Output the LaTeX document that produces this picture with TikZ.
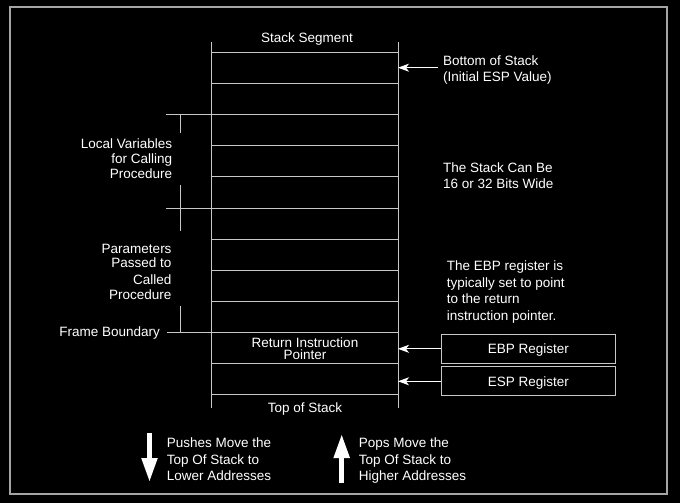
\documentclass[tikz,border=0pt]{standalone}
\usepackage{fontspec}
\setmainfont{Liberation Sans}
\usetikzlibrary{arrows.meta}
\definecolor{linegray}{RGB}{200,200,200}
\definecolor{bordergray}{RGB}{165,165,165}
\tikzset{
  lbl/.style={text=white, inner sep=0pt, font=\fontsize{13.55}{16}\selectfont},
  rowline/.style={draw=linegray, line width=1bp},
  ptr/.style={draw=white, line width=1bp, -{Stealth[length=11bp,width=8bp,inset=3bp]}},
  regbox/.style={draw=linegray, line width=1bp, text=white, minimum width=174bp,
    minimum height=29bp, inner sep=0pt, text height=9.7bp, text depth=0bp,
    font=\fontsize{13.55}{16}\selectfont},
  bigarrow/.style={draw=white, line width=5bp, -{Triangle[length=24bp,width=15bp]}},
}
\begin{document}
\begin{tikzpicture}[x=1bp,y=-1bp]
  \fill[black] (0,0) rectangle (680,503);
  \useasboundingbox (0,0) rectangle (680,503);
  \draw[bordergray, line width=1.6bp] (10,7) rectangle (667,494);

  % stack frame
  \coordinate (sl) at (211,0);
  \coordinate (sr) at (398,0);
  \draw[rowline] (211,42) -- (211,408);
  \draw[rowline] (398,42) -- (398,408);
  \foreach \i in {0,...,11}
    \draw[rowline] (211,52.3+31.15*\i) -- (398,52.3+31.15*\i);
  % extended boundary lines
  \draw[rowline] (166,114.6) -- (211,114.6);
  \draw[rowline] (166,208.05) -- (211,208.05);
  \draw[rowline] (167,332.65) -- (211,332.65);
  % brackets
  \draw[rowline] (180,114.6) -- (180,133);
  \draw[rowline] (180,185) -- (180,231);
  \draw[rowline] (180,306) -- (180,332.65);

  % labels inside stack
  \node[lbl, anchor=base] (seg) at (307,42.7) {Stack Segment};
  \node[lbl, align=center, font=\fontsize{13.55}{11.5}\selectfont] (ret) at (305,348.9) {Return Instruction\\Pointer};
  \node[lbl, anchor=base] (tos) at (305,412) {Top of Stack};

  % right labels
  \node[lbl, anchor=base west] (bos1) at (443,65.7) {Bottom of Stack};
  \node[lbl, anchor=base west] (bos2) at (443,81.5) {(Initial ESP Value)};
  \coordinate (bosend) at (438,67.7);
  \draw[ptr] (bosend) -- (bosend -| sr);

  \node[lbl, anchor=base west] (wid1) at (443,172.7) {The Stack Can Be};
  \node[lbl, anchor=base west] (wid2) at (443,188.7) {16 or 32 Bits Wide};

  \node[lbl, anchor=base west] (ebpt1) at (446.7,271) {The EBP register is};
  \node[lbl, anchor=base west] (ebpt2) at (446.7,287.3) {typically set to point};
  \node[lbl, anchor=base west] (ebpt3) at (446.7,303.7) {to the return};
  \node[lbl, anchor=base west] (ebpt4) at (446.7,320) {instruction pointer.};

  \node[regbox] (ebp) at (528.3,348.8) {EBP Register};
  \node[regbox] (esp) at (528.3,381.3) {ESP Register};
  \draw[ptr] (ebp.west) -- (ebp.west -| sr);
  \draw[ptr] (esp.west) -- (esp.west -| sr);

  % left labels
  \node[lbl, anchor=base east] (lv1) at (172.3,149) {Local Variables};
  \node[lbl, anchor=base east] (lv2) at (172.3,164) {for Calling};
  \node[lbl, anchor=base east] (lv3) at (172.3,179) {Procedure};

  \node[lbl, anchor=base east] (pp1) at (171.7,253.3) {Parameters};
  \node[lbl, anchor=base east] (pp2) at (171.7,268) {Passed to};
  \node[lbl, anchor=base east] (pp3) at (171.7,284) {Called};
  \node[lbl, anchor=base east] (pp4) at (171.7,299) {Procedure};

  \node[lbl, anchor=base east] (fb) at (160,336.7) {Frame Boundary};

  % bottom legend
  \coordinate (dtop) at (149.5,433);
  \coordinate (dbot) at (149.5,482);
  \draw[bigarrow] (dtop) -- (dbot);
  \node[lbl, anchor=base west] (push1) at (166.7,447.5) {Pushes Move the};
  \node[lbl, anchor=base west] (push2) at (166.7,464) {Top Of Stack to};
  \node[lbl, anchor=base west] (push3) at (166.7,480.7) {Lower Addresses};

  \coordinate (ubot) at (341.7,483);
  \coordinate (utop) at (341.7,434);
  \draw[bigarrow] (ubot) -- (utop);
  \node[lbl, anchor=base west] (pop1) at (358.7,447.5) {Pops Move the};
  \node[lbl, anchor=base west] (pop2) at (358.7,464) {Top Of Stack to};
  \node[lbl, anchor=base west] (pop3) at (358.7,480.7) {Higher Addresses};
\end{tikzpicture}
\end{document}
